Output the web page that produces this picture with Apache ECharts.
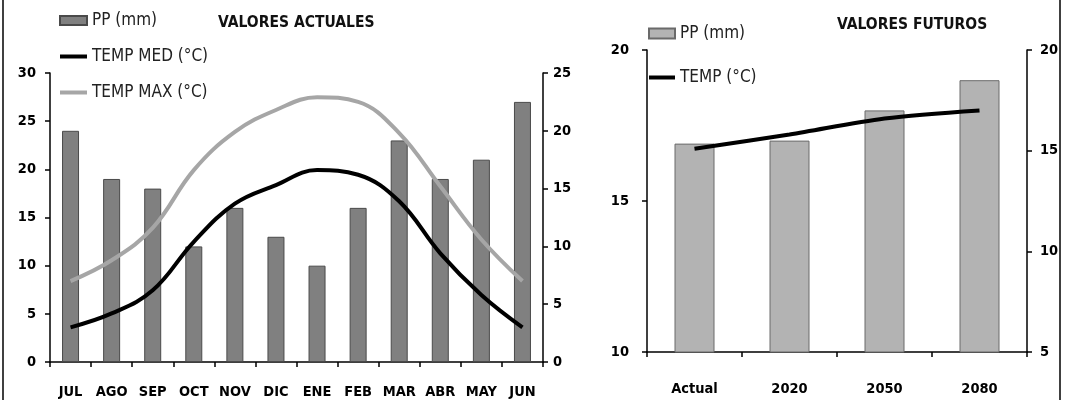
<!DOCTYPE html>
<html>
<head>
<meta charset="utf-8">
<script src="https://cdn.jsdelivr.net/npm/echarts@6/dist/echarts.min.js"></script>
<style>
  html, body { margin: 0; padding: 0; background: #fff; }
  #chart { width: 1068px; height: 400px; }
</style>
</head>
<body>
<div id="chart"></div>
<script>
// Monthly climate values (current)
const months = ['JUL', 'AGO', 'SEP', 'OCT', 'NOV', 'DIC', 'ENE', 'FEB', 'MAR', 'ABR', 'MAY', 'JUN'];
const ppActual = [24, 19, 18, 12, 16, 13, 10, 16, 23, 19, 21, 27];
const tempMed = [3.0, 4.2, 6.2, 10.4, 13.7, 15.3, 16.6, 16.2, 13.9, 9.4, 5.8, 3.0];
const tempMax = [7.0, 8.8, 11.6, 16.6, 19.9, 21.8, 22.9, 22.5, 19.8, 15.2, 10.6, 7.0];

// Projected values
const periods = ['Actual', '2020', '2050', '2080'];
const ppFuturo = [16.9, 17.0, 18.0, 19.0];
const tempFuturo = [15.1, 15.8, 16.6, 17.0];

const FONT = '"DejaVu Sans Condensed", "Liberation Sans Narrow", "Liberation Sans", sans-serif';
const tickLabel = { color: '#000', fontFamily: FONT, fontWeight: 'bold', fontSize: 14.5 };

const axisLine = { show: true, lineStyle: { color: '#000', width: 1.5 } };
const axisTick = { show: true, length: 5, lineStyle: { color: '#000', width: 1.5 } };

// line entries in the legends: keep a thick stroke, hide the marker dot
const lineLegendItem = name => ({ name, itemStyle: { opacity: 0, borderWidth: 0 }, lineStyle: { width: 4 } });

const chart = echarts.init(document.getElementById('chart'), null, { renderer: 'canvas' });

chart.setOption({
  animation: false,
  backgroundColor: '#fff',
  title: [
    { text: 'VALORES ACTUALES', left: 218, top: 15, padding: 0,
      textStyle: { fontFamily: FONT, fontWeight: 'bold', fontSize: 15.5, color: '#111' } },
    { text: 'VALORES FUTUROS', left: 837, top: 17, padding: 0,
      textStyle: { fontFamily: FONT, fontWeight: 'bold', fontSize: 15.5, color: '#111' } }
  ],
  legend: [
    {
      orient: 'vertical', left: 58, top: 12, padding: 0, itemWidth: 27, itemHeight: 9, itemGap: 19,
      textStyle: { fontFamily: FONT, fontSize: 17, color: '#222' },
      data: [{ name: 'PP (mm)', icon: 'rect' }, lineLegendItem('TEMP MED (°C)'), lineLegendItem('TEMP MAX (°C)')]
    },
    {
      orient: 'vertical', left: 647, top: 25, padding: 0, itemWidth: 26, itemHeight: 10, itemGap: 27,
      textStyle: { fontFamily: FONT, fontSize: 17, color: '#222' },
      data: [{ name: 'PP futura', icon: 'rect' }, lineLegendItem('TEMP futura')],
      formatter: n => (n === 'PP futura' ? 'PP (mm)' : 'TEMP (°C)')
    }
  ],
  grid: [
    { left: 50, right: 525, top: 73, bottom: 38 },
    { left: 647, right: 41, top: 50, bottom: 48 }
  ],
  xAxis: [
    { type: 'category', gridIndex: 0, data: months, boundaryGap: true,
      axisLine, axisTick,
      axisLabel: { ...tickLabel, margin: 23, interval: 0 } },
    { type: 'category', gridIndex: 1, data: periods, boundaryGap: true,
      axisLine, axisTick,
      axisLabel: { ...tickLabel, margin: 30, interval: 0 } }
  ],
  yAxis: [
    { type: 'value', gridIndex: 0, position: 'left', min: 0, max: 30, interval: 5,
      axisLine, axisTick, splitLine: { show: false },
      axisLabel: { ...tickLabel, margin: 14 } },
    { type: 'value', gridIndex: 0, position: 'right', min: 0, max: 25, interval: 5,
      axisLine, axisTick, splitLine: { show: false },
      axisLabel: { ...tickLabel, margin: 10 } },
    { type: 'value', gridIndex: 1, position: 'left', min: 10, max: 20, interval: 5,
      axisLine, axisTick, splitLine: { show: false },
      axisLabel: { ...tickLabel, margin: 18 } },
    { type: 'value', gridIndex: 1, position: 'right', min: 5, max: 20, interval: 5,
      axisLine, axisTick, splitLine: { show: false },
      axisLabel: { ...tickLabel, margin: 13 } }
  ],
  series: [
    { name: 'PP (mm)', type: 'bar', xAxisIndex: 0, yAxisIndex: 0, data: ppActual, barWidth: 17,
      itemStyle: { color: '#808080', borderColor: '#4a4a4a', borderWidth: 1 } },
    { name: 'TEMP MED (°C)', type: 'line', xAxisIndex: 0, yAxisIndex: 1, data: tempMed,
      smooth: 0.4, symbol: 'none', lineStyle: { color: '#000', width: 4 }, itemStyle: { color: '#000' } },
    { name: 'TEMP MAX (°C)', type: 'line', xAxisIndex: 0, yAxisIndex: 1, data: tempMax,
      smooth: 0.4, symbol: 'none', lineStyle: { color: '#a6a6a6', width: 4 }, itemStyle: { color: '#a6a6a6' } },
    { name: 'PP futura', type: 'bar', xAxisIndex: 1, yAxisIndex: 2, data: ppFuturo, barWidth: 40,
      itemStyle: { color: '#b3b3b3', borderColor: '#6a6a6a', borderWidth: 1 } },
    { name: 'TEMP futura', type: 'line', xAxisIndex: 1, yAxisIndex: 3, data: tempFuturo,
      smooth: 0.3, symbol: 'none', lineStyle: { color: '#000', width: 4 }, itemStyle: { color: '#000' } }
  ],
  graphic: [
    { type: 'line', shape: { x1: 3, y1: 0, x2: 3, y2: 400 }, style: { stroke: '#000', lineWidth: 1.5 }, z: 100 },
    { type: 'rect', shape: { x: 1060, y: 0, width: 8, height: 400 }, style: { fill: '#fff' }, z: 100 },
    { type: 'line', shape: { x1: 1060, y1: 0, x2: 1060, y2: 400 }, style: { stroke: '#000', lineWidth: 1.5 }, z: 101 }
  ]
});
</script>
</body>
</html>
